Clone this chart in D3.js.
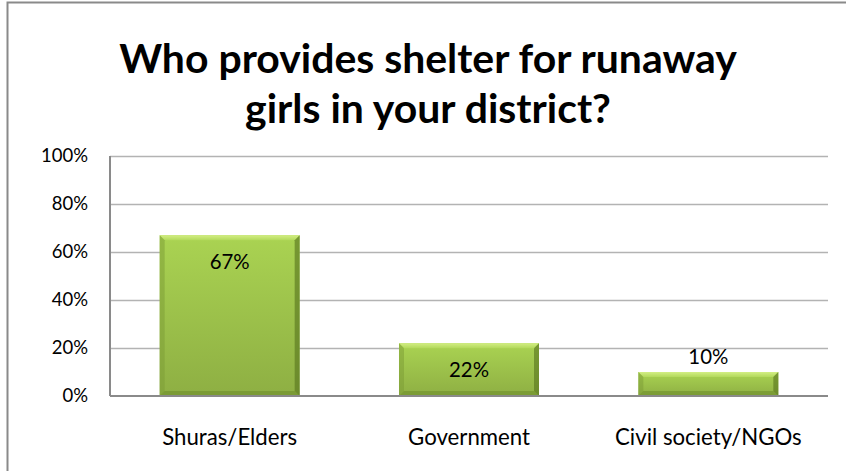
<!DOCTYPE html>
<html>
<head>
<meta charset="utf-8">
<script src="https://cdn.jsdelivr.net/npm/d3@7"></script>
<style>
  html, body { margin: 0; padding: 0; background: #fff; }
  svg { display: block; font-family: "Lato", "Open Sans", sans-serif; }
</style>
</head>
<body>
<svg id="chart" width="846" height="471"></svg>
<script>
// Survey answers: who shelters runaway girls
const categories = ["Shuras/Elders", "Government", "Civil society/NGOs"];
const values = [0.67, 0.22, 0.10];
const valueLabels = ["67%", "22%", "10%"];
const yTicks = [0, 0.2, 0.4, 0.6, 0.8, 1.0];
const titleLines = ["Who provides shelter for runaway", "girls in your district?"];

const svg = d3.select("#chart");
const W = 846, H = 471;
const plot = { left: 110, right: 828, top: 156, bottom: 396 };

// Scale a text selection's font size so a sample node reaches a target width
function fitFont(sel, sampleNode, targetWidth, startSize) {
  sel.attr("font-size", startSize);
  const w = sampleNode.getComputedTextLength();
  const size = startSize * targetWidth / w;
  sel.attr("font-size", size.toFixed(2));
}

// Outer frame
svg.append("rect")
  .attr("x", 7.5).attr("y", 2.5)
  .attr("width", W + 20).attr("height", H + 20)
  .attr("fill", "#fff").attr("stroke", "#8a8a8a").attr("stroke-width", 2);

// Title
const titleText = svg.append("g").selectAll("text")
  .data(titleLines).join("text")
  .attr("x", 428).attr("y", (d, i) => 73 + i * 50)
  .attr("text-anchor", "middle")
  .attr("font-weight", "bold")
  .attr("fill", "#000")
  .text(d => d);
fitFont(titleText, titleText.node(), 618, 34);

const x = d3.scaleBand().domain(categories)
  .range([plot.left, plot.right]).paddingInner(0.415).paddingOuter(0.2075);
const y = d3.scaleLinear().domain([0, 1]).range([plot.bottom, plot.top]);

// Gridlines
svg.append("g").selectAll("line")
  .data(yTicks.filter(d => d > 0))
  .join("line")
  .attr("x1", plot.left).attr("x2", plot.right)
  .attr("y1", d => Math.round(y(d)) + 0.5).attr("y2", d => Math.round(y(d)) + 0.5)
  .attr("stroke", "#b3b3b3").attr("stroke-width", 1.5);

// Y axis
const yAxis = d3.axisLeft(y).tickValues(yTicks).tickFormat(d3.format(".0%")).tickSize(0).tickPadding(22);
const yg = svg.append("g").attr("transform", `translate(${plot.left},0)`).call(yAxis);
yg.select(".domain").remove();
const yText = yg.selectAll("text").attr("fill", "#000").attr("font-family", "Lato, sans-serif");
fitFont(yText, yText.filter(d => d === 1).node(), 47, 18);
svg.append("line")
  .attr("x1", plot.left).attr("x2", plot.left)
  .attr("y1", plot.top).attr("y2", plot.bottom)
  .attr("stroke", "#8a8a8a").attr("stroke-width", 2);

// Bar gradients
const defs = svg.append("defs");
const g1 = defs.append("linearGradient").attr("id", "barFill").attr("x1", 0).attr("y1", 0).attr("x2", 0).attr("y2", 1);
g1.append("stop").attr("offset", "0%").attr("stop-color", "#aad352");
g1.append("stop").attr("offset", "100%").attr("stop-color", "#8eaf43");
const gTop = defs.append("linearGradient").attr("id", "barTop").attr("x1", 0).attr("y1", 0).attr("x2", 0).attr("y2", 1);
gTop.append("stop").attr("offset", "0%").attr("stop-color", "#d3ee84");
gTop.append("stop").attr("offset", "100%").attr("stop-color", "#b2d95b");

const bev = 5;
const bars = svg.append("g").selectAll("g")
  .data(categories.map((c, i) => ({ c, v: values[i], label: valueLabels[i] })))
  .join("g");

bars.each(function(d) {
  const g = d3.select(this);
  const x0 = x(d.c), x1 = x(d.c) + x.bandwidth();
  const y0 = y(d.v), y1 = y(0);
  const b = Math.min(bev, (y1 - y0) / 3);
  g.append("rect").attr("x", x0).attr("y", y0).attr("width", x1 - x0).attr("height", y1 - y0)
    .attr("fill", "url(#barFill)");
  // top bevel
  g.append("polygon").attr("points", [[x0, y0], [x1, y0], [x1 - b, y0 + b], [x0 + b, y0 + b]].join(" "))
    .attr("fill", "url(#barTop)");
  // left bevel
  g.append("polygon").attr("points", [[x0, y0], [x0 + b, y0 + b], [x0 + b, y1 - b], [x0, y1]].join(" "))
    .attr("fill", "#7c9c35").attr("opacity", 0.5);
  // right bevel
  g.append("polygon").attr("points", [[x1, y0], [x1 - b, y0 + b], [x1 - b, y1 - b], [x1, y1]].join(" "))
    .attr("fill", "#5a7820").attr("opacity", 0.65);
  // bottom bevel
  g.append("polygon").attr("points", [[x0, y1], [x0 + b, y1 - b], [x1 - b, y1 - b], [x1, y1]].join(" "))
    .attr("fill", "#6b8a2a").attr("opacity", 0.55);
});

// Value labels: inside end when tall enough, otherwise above the bar
const valText = bars.append("text")
  .attr("x", d => x(d.c) + x.bandwidth() / 2)
  .attr("y", d => (y(0) - y(d.v) > 40) ? y(d.v) + 34 : y(d.v) - 8)
  .attr("text-anchor", "middle")
  .attr("fill", "#000")
  .text(d => d.label);
fitFont(valText, valText.node(), 40, 18);

// Baseline
svg.append("line")
  .attr("x1", plot.left).attr("x2", plot.right)
  .attr("y1", y(0)).attr("y2", y(0))
  .attr("stroke", "#8a8a8a").attr("stroke-width", 2);

// Category labels
const xAxis = d3.axisBottom(x).tickSize(0).tickPadding(33);
const xg = svg.append("g").attr("transform", `translate(0,${plot.bottom})`).call(xAxis);
xg.select(".domain").remove();
const xText = xg.selectAll("text").attr("fill", "#000").attr("font-family", "Lato, sans-serif");
fitFont(xText, xText.node(), 135, 18);
</script>
</body>
</html>
